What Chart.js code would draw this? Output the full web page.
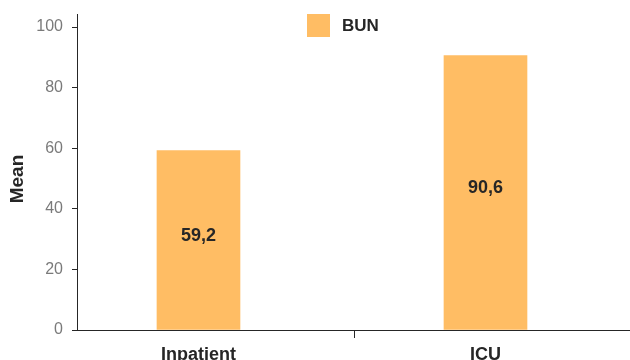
<!DOCTYPE html>
<html>
<head>
<meta charset="utf-8">
<script src="https://cdn.jsdelivr.net/npm/chart.js@4/dist/chart.umd.min.js"></script>
<style>
  html, body { margin: 0; padding: 0; background: #ffffff; }
  #wrap { width: 630px; height: 360px; overflow: hidden; }
</style>
</head>
<body>
<div id="wrap"><canvas id="c" width="630" height="360"></canvas></div>
<script>
// Mean BUN by setting
const categories = ['Inpatient', 'ICU'];
const seriesName = 'BUN';
const meanValues = [59.2, 90.6];
const yTicks = [0, 20, 40, 60, 80, 100];
const yTitle = 'Mean';

const BAR_COLOR = '#FFBD64';
const INK = '#262626';
const FONT = "'Liberation Sans', Arial, Helvetica, sans-serif";
const SEPARATOR = 0.545; // small divider mark on the category axis

const fmt = v => v.toFixed(1).replace('.', ',');

// Value labels centred inside each bar
const barLabels = {
  id: 'barLabels',
  afterDatasetsDraw(chart) {
    const ctx = chart.ctx;
    const meta = chart.getDatasetMeta(0);
    ctx.save();
    ctx.font = 'bold 18px ' + FONT;
    ctx.fillStyle = INK;
    ctx.textAlign = 'center';
    ctx.textBaseline = 'middle';
    meta.data.forEach((bar, i) => {
      const mid = (bar.y + bar.base) / 2 - 4;
      ctx.fillText(fmt(meanValues[i]), bar.x, mid);
    });
    ctx.restore();
  }
};

// Legend drawn inside the plot, near the top, plus the rotated axis title
const insideLegend = {
  id: 'insideLegend',
  afterDraw(chart) {
    const ctx = chart.ctx;
    const area = chart.chartArea;
    const ds = chart.data.datasets[0];
    const box = 23;
    const x = (area.left + area.right) / 2 - 46.5;
    const y = area.top;
    ctx.save();
    ctx.fillStyle = ds.backgroundColor;
    ctx.fillRect(x, y, box, box);
    ctx.font = 'bold 17px ' + FONT;
    ctx.fillStyle = INK;
    ctx.textAlign = 'left';
    ctx.textBaseline = 'middle';
    ctx.fillText(ds.label, x + box + 12, y + box / 2 + 1);

    // y-axis title
    ctx.translate(18, (area.top + area.bottom) / 2 + 7);
    ctx.rotate(-Math.PI / 2);
    ctx.font = 'bold 19px ' + FONT;
    ctx.textAlign = 'center';
    ctx.fillText(yTitle, 0, 0);
    ctx.restore();
  }
};

new Chart(document.getElementById('c'), {
  type: 'bar',
  data: {
    datasets: [{
      label: seriesName,
      data: meanValues.map((v, i) => ({ x: i, y: v })),
      backgroundColor: BAR_COLOR,
      borderWidth: 0,
      barThickness: 83
    }]
  },
  options: {
    responsive: false,
    animation: false,
    layout: { padding: { top: 14, right: 0, left: 0, bottom: 0 } },
    plugins: {
      legend: { display: false },
      tooltip: { enabled: false }
    },
    scales: {
      x: {
        type: 'linear',
        offset: false,
        min: -0.4233,
        max: 1.5035,
        afterFit(scale) {
          scale.height = 30;
          scale.paddingLeft = 0;
          scale.paddingRight = 0;
        },
        afterBuildTicks(scale) {
          scale.ticks = [{ value: 0 }, { value: SEPARATOR }, { value: 1 }];
        },
        grid: {
          offset: false,
          drawOnChartArea: false,
          drawTicks: true,
          tickLength: 8,
          tickWidth: 1,
          tickColor: ctx => (ctx.tick && ctx.tick.value === SEPARATOR) ? INK : 'rgba(0,0,0,0)'
        },
        border: { display: true, color: INK, width: 1 },
        ticks: {
          autoSkip: false,
          maxRotation: 0,
          padding: 6,
          color: INK,
          font: { family: FONT, size: 18, weight: 'bold' },
          callback: v => (Number.isInteger(v) ? categories[v] : '')
        }
      },
      y: {
        min: 0,
        max: 104.3,
        afterFit(scale) {
          scale.width = 77;
          scale.paddingTop = 0;
          scale.paddingBottom = 0;
        },
        afterBuildTicks(scale) {
          scale.ticks = yTicks.map(v => ({ value: v }));
        },
        grid: {
          drawOnChartArea: false,
          drawTicks: true,
          tickLength: 5,
          tickColor: INK
        },
        border: { display: true, color: INK, width: 1 },
        ticks: {
          padding: 9,
          color: '#7a7a7a',
          font: { family: FONT, size: 16 }
        }
      }
    }
  },
  plugins: [barLabels, insideLegend]
});
</script>
</body>
</html>
